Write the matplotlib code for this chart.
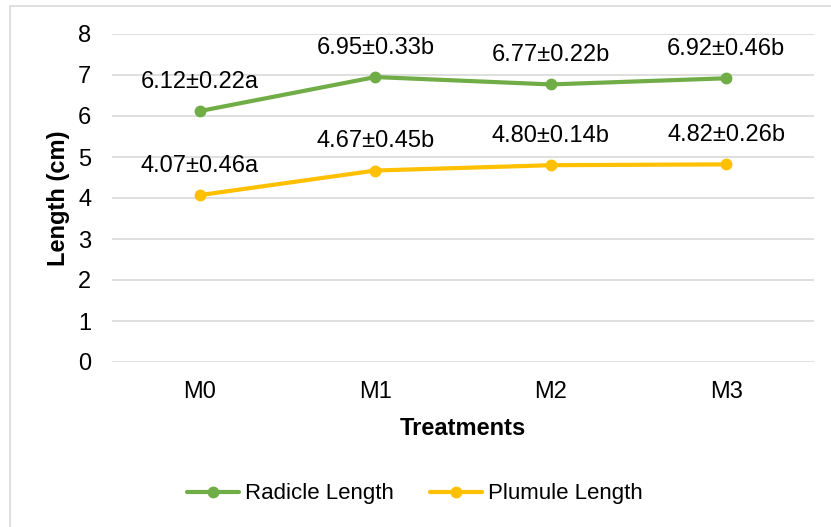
import matplotlib
matplotlib.use('Agg')
import matplotlib.pyplot as plt
from matplotlib.patches import Rectangle

plt.rcParams['font.family'] = ['Liberation Sans', 'DejaVu Sans']

# data
treatments = ['M0', 'M1', 'M2', 'M3']
radicle = [6.12, 6.95, 6.77, 6.92]
plumule = [4.07, 4.67, 4.80, 4.82]
radicle_labels = ['6.12±0.22a', '6.95±0.33b', '6.77±0.22b', '6.92±0.46b']
plumule_labels = ['4.07±0.46a', '4.67±0.45b', '4.80±0.14b', '4.82±0.26b']

green = '#70AD47'
yellow = '#FFC000'
fs = 17

fig = plt.figure(figsize=(8.31, 5.27), dpi=100)
ax = fig.add_axes([112/831, 1 - 362/527, 702/831, 328/527])

x = range(len(treatments))
ax.plot(x, radicle, color=green, lw=3, marker='o', ms=7.5, label='Radicle Length',
        solid_capstyle='round', zorder=3)
ax.plot(x, plumule, color=yellow, lw=3, marker='o', ms=7.5, label='Plumule Length',
        solid_capstyle='round', zorder=3)

for i in x:
    ax.annotate(radicle_labels[i], (i, radicle[i]), xytext=(0, 21), textcoords='offset points',
                ha='center', va='center', fontsize=fs)
    ax.annotate(plumule_labels[i], (i, plumule[i]), xytext=(0, 21), textcoords='offset points',
                ha='center', va='center', fontsize=fs)

ax.set_xlim(-0.5, 3.5)
ax.set_ylim(0, 8)
ax.set_yticks(range(0, 9))
ax.set_xticks(list(x))
ax.set_xticklabels(treatments)
ax.grid(axis='y', color='#d9d9d9', lw=1.2)
ax.set_axisbelow(True)
for s in ax.spines.values():
    s.set_visible(False)
ax.tick_params(length=0, labelsize=fs)
ax.tick_params(axis='x', pad=13.5)
ax.tick_params(axis='y', pad=15)

ax.set_xlabel('Treatments', fontsize=fs, fontweight='bold', labelpad=10.5)
ax.set_ylabel('Length (cm)', fontsize=fs, fontweight='bold', labelpad=6)

ax.legend(loc='center', bbox_to_anchor=(415/831, 1 - 494/527), bbox_transform=fig.transFigure,
          ncol=2, frameon=False, fontsize=16, handlelength=2.35, handletextpad=0.28,
          columnspacing=1.6)

fig.patches.append(Rectangle((10/831, -0.01), 1, 1 - 6/527 + 0.01, transform=fig.transFigure,
                             fill=False, edgecolor='#d9d9d9', lw=1.2))

fig.savefig('out.png', dpi=100)
